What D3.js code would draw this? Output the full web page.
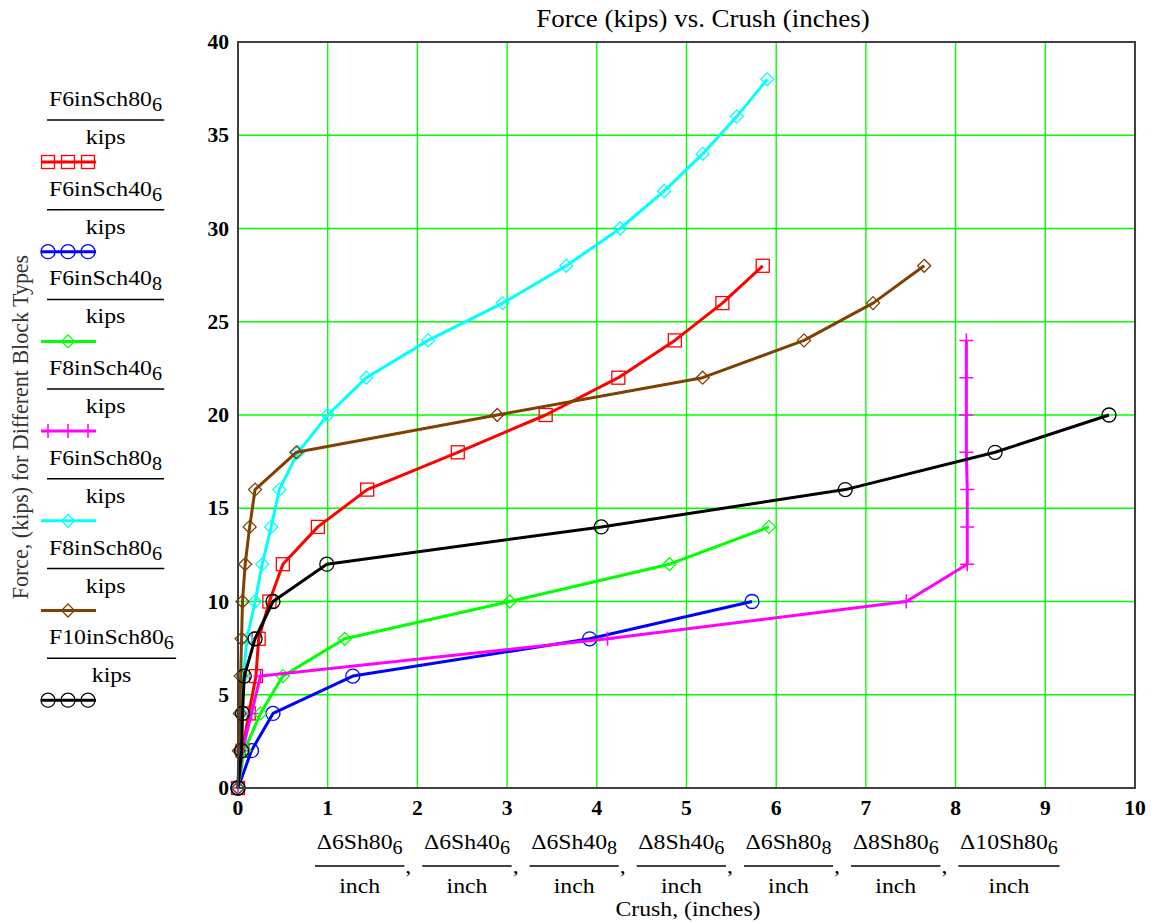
<!DOCTYPE html>
<html>
<head>
<meta charset="utf-8">
<script src="https://cdn.jsdelivr.net/npm/d3@7"></script>
<style>
  body { margin: 0; background: #fff; }
  text { font-family: "Liberation Serif", "Times New Roman", Times, serif; }
</style>
</head>
<body>
<svg id="chart" width="1156" height="924"></svg>
<script>
// DATA - force in kips, crush in inches
const force6Sh80_6 = [0, 2, 4, 6, 8, 10, 12, 14, 16, 18, 20, 22, 24, 26, 28];
const crush6Sh80_6 = [0, 0.05, 0.12, 0.2, 0.23, 0.35, 0.5, 0.89, 1.44, 2.45, 3.43, 4.24, 4.87, 5.4, 5.85];

const force6Sh40_6 = [0, 2, 4, 6, 8, 10];
const crush6Sh40_6 = [0, 0.15, 0.39, 1.28, 3.92, 5.73];

const force6Sh40_8 = [0, 2, 4, 6, 8, 10, 12, 14];
const crush6Sh40_8 = [0, 0.07, 0.25, 0.5, 1.19, 3.03, 4.81, 5.92];

const force8Sh40_6 = [0, 2, 4, 6, 8, 10, 12, 14, 16, 18, 20, 22, 24];
const crush8Sh40_6 = [0, 0.05, 0.15, 0.25, 4.12, 7.45, 8.13, 8.13, 8.13, 8.12, 8.12, 8.12, 8.12];

const force6Sh80_8 = [0, 2, 4, 6, 8, 10, 12, 14, 16, 18, 20, 22, 24, 26, 28, 30, 32, 34, 36, 38];
const crush6Sh80_8 = [0, 0.02, 0.04, 0.06, 0.1, 0.19, 0.27, 0.37, 0.46, 0.67, 1.0, 1.43, 2.12, 2.95, 3.66, 4.26, 4.75, 5.18, 5.56, 5.9];

const force8Sh80_6 = [0, 2, 4, 6, 8, 10, 12, 14, 16, 18, 20, 22, 24, 26, 28];
const crush8Sh80_6 = [0, 0.01, 0.02, 0.03, 0.04, 0.05, 0.08, 0.13, 0.19, 0.65, 2.89, 5.18, 6.31, 7.08, 7.65];

const force10Sh80_6 = [0, 2, 4, 6, 8, 10, 12, 14, 16, 18, 20];
const crush10Sh80_6 = [0, 0.04, 0.05, 0.07, 0.19, 0.39, 0.99, 4.05, 6.77, 8.44, 9.71];

const forceNames = ["F6inSch80", "F6inSch40", "F6inSch40", "F8inSch40", "F6inSch80", "F8inSch80", "F10inSch80"];
const crushNames = ["\u03946Sh80", "\u03946Sh40", "\u03946Sh40", "\u03948Sh40", "\u03946Sh80", "\u03948Sh80", "\u039410Sh80"];
const subscripts = ["6", "6", "8", "6", "8", "6", "6"];

const xTicks = [0, 1, 2, 3, 4, 5, 6, 7, 8, 9, 10];
const yTicks = [0, 5, 10, 15, 20, 25, 30, 35, 40];

// trace styles (Mathcad defaults)
const colors = ["#ff0000", "#0000ff", "#00ff00", "#ff00ff", "#00ffff", "#804000", "#000000"];
const symbols = ["square", "circle", "diamond", "plus", "diamond", "diamond", "circle"];

const series = [
  [crush6Sh80_6, force6Sh80_6],
  [crush6Sh40_6, force6Sh40_6],
  [crush6Sh40_8, force6Sh40_8],
  [crush8Sh40_6, force8Sh40_6],
  [crush6Sh80_8, force6Sh80_8],
  [crush8Sh80_6, force8Sh80_6],
  [crush10Sh80_6, force10Sh80_6]
].map(function(s, i) {
  return {
    points: s[0].map((c, j) => ({ x: c, y: s[1][j] })),
    color: colors[i],
    symbol: symbols[i]
  };
});

// text in the original is a bit stretched sideways
const sx = 1.08;

const svg = d3.select("#chart");

const x = d3.scaleLinear().domain([0, 10]).range([238, 1135]);
const y = d3.scaleLinear().domain([0, 40]).range([788, 42]);

function addText(g, px, py, str, size, anchor, weight) {
  return g.append("text")
    .attr("transform", "translate(" + px + "," + py + ") scale(" + sx + ",1)")
    .attr("text-anchor", anchor || "start")
    .attr("font-size", size)
    .attr("font-weight", weight || "normal")
    .attr("fill", "#000")
    .text(str);
}

function addSubText(g, px, py, str, sub, size, anchor) {
  const t = addText(g, px, py, str, size, anchor);
  t.append("tspan").attr("font-size", size * 0.85).attr("dy", 5).text(sub);
  return t;
}

function marker(g, sym, cx, cy, color) {
  if (sym === "square") {
    g.append("rect").attr("x", cx - 6.5).attr("y", cy - 6.5).attr("width", 13).attr("height", 13)
      .attr("fill", "none").attr("stroke", color).attr("stroke-width", 1.3);
  } else if (sym === "circle") {
    g.append("circle").attr("cx", cx).attr("cy", cy).attr("r", 7)
      .attr("fill", "none").attr("stroke", color).attr("stroke-width", 1.3);
  } else if (sym === "diamond") {
    g.append("path").attr("d", "M" + cx + "," + (cy - 6.5) + "L" + (cx + 6.5) + "," + cy +
      "L" + cx + "," + (cy + 6.5) + "L" + (cx - 6.5) + "," + cy + "Z")
      .attr("fill", "none").attr("stroke", color).attr("stroke-width", 1.3);
  } else {
    g.append("path").attr("d", "M" + (cx - 7) + "," + cy + "H" + (cx + 7) + "M" + cx + "," + (cy - 7) + "V" + (cy + 7))
      .attr("fill", "none").attr("stroke", color).attr("stroke-width", 1.5);
  }
}

// GRID
const grid = svg.append("g");
grid.selectAll("line.vx")
  .data(xTicks.slice(1, -1))
  .enter().append("line")
  .attr("x1", d => x(d)).attr("x2", d => x(d))
  .attr("y1", y(0)).attr("y2", y(40))
  .attr("stroke", "#00ff00").attr("stroke-width", 1.4);
grid.selectAll("line.hy")
  .data(yTicks.slice(1, -1))
  .enter().append("line")
  .attr("x1", x(0)).attr("x2", x(10))
  .attr("y1", d => y(d)).attr("y2", d => y(d))
  .attr("stroke", "#00ff00").attr("stroke-width", 1.4);

// TRACES
const line = d3.line().x(d => x(d.x)).y(d => y(d.y));
const traces = svg.append("g");
series.forEach(function(s) {
  traces.append("path")
    .attr("d", line(s.points))
    .attr("fill", "none")
    .attr("stroke", s.color)
    .attr("stroke-width", 3)
    .attr("stroke-linejoin", "round");
  s.points.forEach(p => marker(traces, s.symbol, x(p.x), y(p.y), s.color));
});

// FRAME
svg.append("rect")
  .attr("x", x(0)).attr("y", y(40))
  .attr("width", x(10) - x(0)).attr("height", y(0) - y(40))
  .attr("fill", "none").attr("stroke", "#404040").attr("stroke-width", 2);

// TICK LABELS
const labels = svg.append("g");
xTicks.forEach(t => addText(labels, x(t), 815, String(t), 20, "middle", "bold"));
yTicks.forEach(t => addText(labels, 229, y(t) + 7, String(t), 20, "end", "bold"));

// TITLE
addText(svg, 703, 27, "Force (kips) vs. Crush (inches)", 25, "middle");

// Y LABEL
svg.append("text")
  .attr("transform", "translate(28,427) scale(" + sx + ",1) rotate(-90)")
  .attr("text-anchor", "middle")
  .attr("font-size", 22)
  .attr("fill", "#333")
  .text("Force, (kips) for Different Block Types");

// LEGEND
const legend = svg.append("g");
series.forEach(function(s, i) {
  const off = i * 89.7;
  const name = addSubText(legend, 49, 106 + off, forceNames[i], subscripts[i], 22, "start");
  const w = name.node().getBBox().width * sx;
  legend.append("line")
    .attr("x1", 47).attr("x2", 51 + w)
    .attr("y1", 120 + off).attr("y2", 120 + off)
    .attr("stroke", "#000").attr("stroke-width", 1.5);
  addText(legend, 49 + w / 2, 144 + off, "kips", 22, "middle");
  legend.append("line")
    .attr("x1", 41).attr("x2", 96)
    .attr("y1", 162 + off).attr("y2", 162 + off)
    .attr("stroke", s.color).attr("stroke-width", 3);
  const spots = s.symbol === "diamond" ? [68] : [48, 68, 88];
  spots.forEach(m => marker(legend, s.symbol, m, 162 + off, s.color));
});

// X LABEL FRACTIONS
const xlab = svg.append("g");
let cursor = 315;
crushNames.forEach(function(n, i) {
  const num = addSubText(xlab, 0, 849, n, subscripts[i], 22, "middle");
  const w = num.node().getBBox().width * sx + 3;
  num.attr("transform", "translate(" + (cursor + w / 2) + ",849) scale(" + sx + ",1)");
  xlab.append("line")
    .attr("x1", cursor).attr("x2", cursor + w)
    .attr("y1", 866).attr("y2", 866)
    .attr("stroke", "#000").attr("stroke-width", 1.5);
  addText(xlab, cursor + w / 2, 893, "inch", 22, "middle");
  if (i < crushNames.length - 1) addText(xlab, cursor + w + 4, 873, ",", 22, "middle");
  cursor += w + 18;
});
addText(xlab, 688, 916, "Crush, (inches)", 22, "middle");
</script>
</body>
</html>
